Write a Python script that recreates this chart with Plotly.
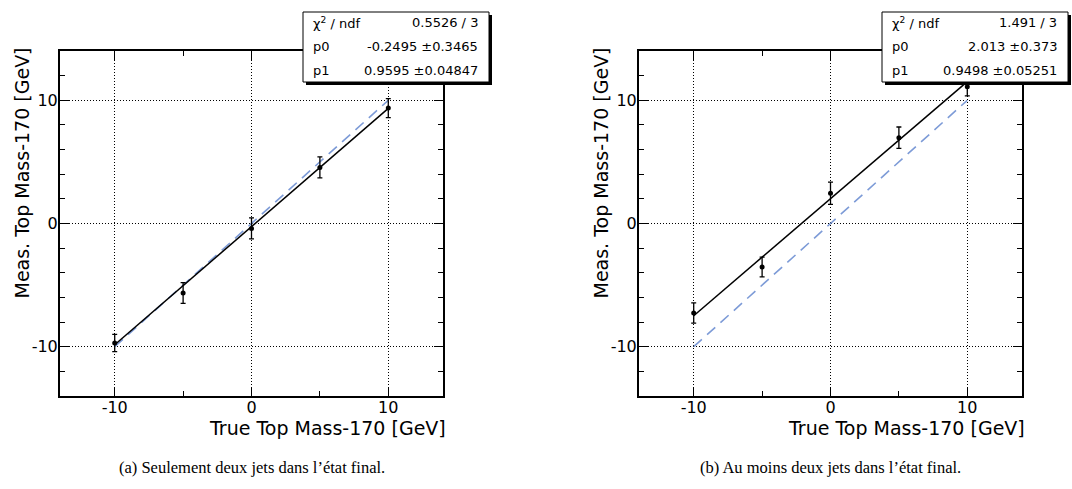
import plotly.graph_objects as go

W, H = 1072, 489

# ---------------- data ----------------
true_mass = [-10, -5, 0, 5, 10]

meas_a = [-9.7, -5.64, -0.4, 4.55, 9.37]
err_a = [0.7, 0.84, 0.85, 0.85, 0.77]
fit_a = {"p0": -0.2495, "p1": 0.9595}
stats_a = [("χ<sup>2</sup> / ndf", "0.5526 / 3"),
           ("p0", "-0.2495 ±0.3465"),
           ("p1", "0.9595 ±0.04847")]

meas_b = [-7.27, -3.53, 2.46, 6.96, 11.1]
err_b = [0.82, 0.8, 0.9, 0.87, 0.75]
fit_b = {"p0": 2.013, "p1": 0.9498}
stats_b = [("χ<sup>2</sup> / ndf", "1.491 / 3"),
           ("p0", "2.013 ±0.373"),
           ("p1", "0.9498 ±0.05251")]

fit_range = [-10, 10]
tick_vals = [-10, 0, 10]
tick_text = ["-10", "0", "10"]
x_title = "True Top Mass-170 [GeV]"
y_title = "Meas. Top Mass-170 [GeV]"
captions = ["(a) Seulement deux jets dans l’état final.",
            "(b) Au moins deux jets dans l’état final."]

# ---------------- layout helpers ----------------
def px_x(v):
    return v / W

def px_y(v):
    return 1 - v / H

FONT = "DejaVu Sans"
panels = [
    dict(left=60, right=443, top=51, bottom=396, box=(303, 12, 489, 82), ytx=21, cap=252),
    dict(left=639, right=1022, top=51, bottom=396, box=(882, 12, 1068, 82), ytx=600, cap=830),
]

fig = go.Figure()
datasets = [(meas_a, err_a, fit_a, stats_a), (meas_b, err_b, fit_b, stats_b)]

shapes = []
annotations = []
for i, (pan, (meas, err, fit, stats)) in enumerate(zip(panels, datasets)):
    xa = "x" if i == 0 else "x2"
    ya = "y" if i == 0 else "y2"
    # reference y = x
    fig.add_trace(go.Scatter(x=fit_range, y=fit_range, mode="lines", xaxis=xa, yaxis=ya,
                             line=dict(color="rgb(125,155,215)", width=1.6, dash="11px,7px"),
                             showlegend=False, hoverinfo="skip"))
    # fit line
    fy = [fit["p0"] + fit["p1"] * v for v in fit_range]
    fig.add_trace(go.Scatter(x=fit_range, y=fy, mode="lines", xaxis=xa, yaxis=ya,
                             line=dict(color="black", width=1.5), showlegend=False))
    # data points
    fig.add_trace(go.Scatter(x=true_mass, y=meas, mode="markers", xaxis=xa, yaxis=ya,
                             marker=dict(color="black", size=5),
                             error_y=dict(type="data", array=err, color="black",
                                          thickness=1.3, width=2.5),
                             showlegend=False))

    axis_common = dict(range=[-14, 14], showline=True, linecolor="black", linewidth=2,
                       mirror="allticks", ticks="inside", ticklen=9, tickwidth=1,
                       tickcolor="black", tickmode="array", tickvals=tick_vals,
                       ticktext=tick_text, showgrid=True, gridcolor="black",
                       gridwidth=1, griddash="1px,2px", zeroline=False,
                       tickfont=dict(family=FONT, size=16, color="black"),
                       fixedrange=True)
    xaxis = dict(axis_common, domain=[px_x(pan["left"]), px_x(pan["right"])],
                 anchor=ya, minor=dict(dtick=5, tick0=0, ticks="inside", ticklen=5,
                                       tickcolor="black", showgrid=False),
                 ticklabelstandoff=-4)
    yaxis = dict(axis_common, domain=[px_y(pan["bottom"]), px_y(pan["top"])],
                 anchor=xa, minor=dict(dtick=2, tick0=0, ticks="inside", ticklen=5,
                                       tickcolor="black", showgrid=False),
                 ticklabelstandoff=-3)
    if i == 0:
        fig.update_layout(xaxis=xaxis, yaxis=yaxis)
    else:
        fig.update_layout(xaxis2=xaxis, yaxis2=yaxis)

    # axis titles (right / top aligned, ROOT style)
    annotations.append(dict(text=x_title, x=px_x(pan["right"] + 5), y=px_y(428),
                            xref="paper", yref="paper", xanchor="right", yanchor="middle",
                            showarrow=False, font=dict(family=FONT, size=19, color="black")))
    annotations.append(dict(text=y_title, x=px_x(pan["ytx"]), y=px_y(46),
                            xref="paper", yref="paper", xanchor="center", yanchor="top",
                            textangle=-90, showarrow=False,
                            font=dict(family=FONT, size=19, color="black")))
    # caption
    annotations.append(dict(text=captions[i], x=px_x(pan["cap"]), y=px_y(467),
                            xref="paper", yref="paper", xanchor="center", yanchor="middle",
                            showarrow=False,
                            font=dict(family="Liberation Serif", size=16.5, color="black")))

    # stats box with shadow
    bx0, by0, bx1, by1 = pan["box"]
    shapes.append(dict(type="rect", xref="paper", yref="paper",
                       x0=px_x(bx0 + 3), x1=px_x(min(bx1 + 3, W)), y0=px_y(by1 + 3), y1=px_y(by0 + 3),
                       fillcolor="black", line=dict(width=0), layer="above"))
    shapes.append(dict(type="rect", xref="paper", yref="paper",
                       x0=px_x(bx0), x1=px_x(bx1), y0=px_y(by1), y1=px_y(by0),
                       fillcolor="white", line=dict(color="black", width=1), layer="above"))
    rows_y = [23, 46.5, 70]
    for (lab, val), ry in zip(stats, rows_y):
        annotations.append(dict(text=lab, x=px_x(bx0 + 8), y=px_y(ry), xref="paper", yref="paper",
                                xanchor="left", yanchor="middle", showarrow=False,
                                font=dict(family=FONT, size=13, color="black")))
        annotations.append(dict(text=val, x=px_x(bx1 - 9), y=px_y(ry), xref="paper", yref="paper",
                                xanchor="right", yanchor="middle", showarrow=False,
                                font=dict(family=FONT, size=13, color="black")))

fig.update_layout(width=W, height=H, margin=dict(l=0, r=0, t=0, b=0),
                  paper_bgcolor="white", plot_bgcolor="white",
                  shapes=shapes, annotations=annotations, showlegend=False)

fig.write_html("out.html", config={"displayModeBar": False},
               post_script="document.body.style.margin='0';document.body.style.padding='0';")
